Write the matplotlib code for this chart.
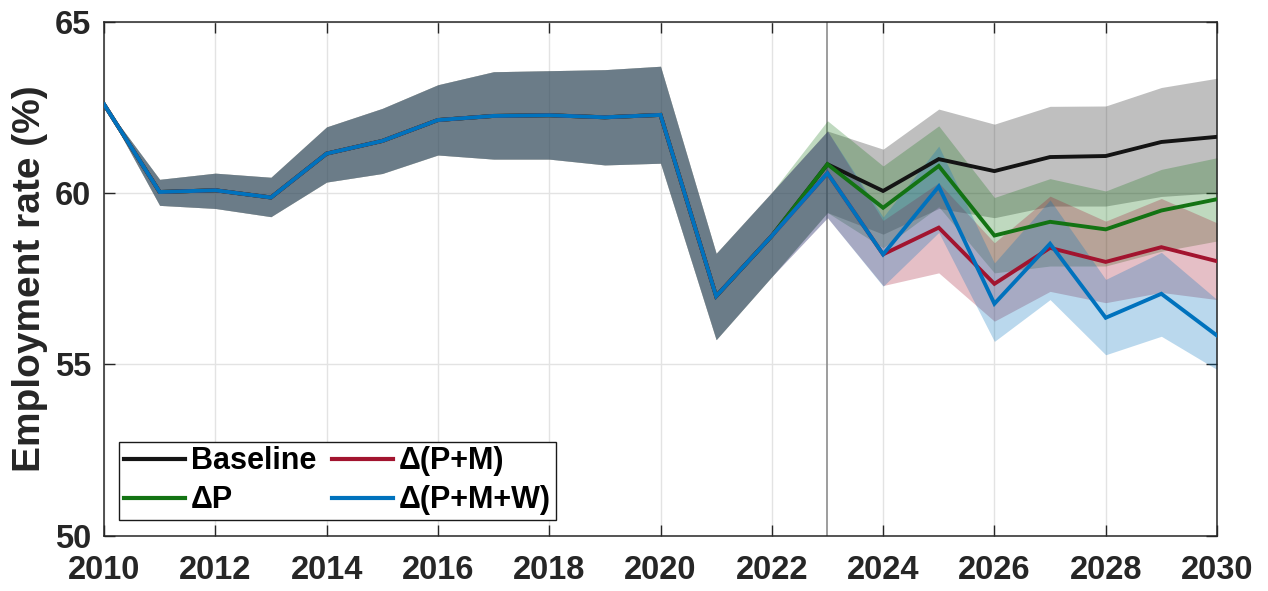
import matplotlib
matplotlib.use("Agg")
import matplotlib.pyplot as plt
import numpy as np

# ---- data -------------------------------------------------------------
years = list(range(2010, 2031))

# observed period (shared by all scenarios), 2010-2022
hist_mean = [62.59, 60.03, 60.08, 59.87, 61.15, 61.52, 62.13, 62.25, 62.27, 62.21, 62.28, 56.99, 58.75]
hist_upper = [62.59, 60.40, 60.58, 60.46, 61.93, 62.47, 63.16, 63.54, 63.57, 63.60, 63.70, 58.24, 60.02]
hist_lower = [62.59, 59.64, 59.55, 59.31, 60.32, 60.57, 61.11, 60.99, 60.99, 60.82, 60.87, 55.72, 57.56]

# projections 2023-2030
base_mean = [60.84, 60.06, 60.99, 60.64, 61.05, 61.08, 61.49, 61.64]
base_upper = [61.81, 61.28, 62.45, 62.01, 62.53, 62.54, 63.08, 63.35]
base_lower = [59.43, 58.80, 59.55, 59.28, 59.62, 59.62, 59.90, 60.01]

p_mean = [60.84, 59.57, 60.79, 58.76, 59.16, 58.94, 59.49, 59.82]
p_upper = [62.11, 60.79, 61.96, 59.87, 60.42, 60.06, 60.69, 61.03]
p_lower = [59.43, 58.40, 59.60, 57.67, 57.87, 57.87, 58.30, 58.60]

pm_mean = [60.58, 58.21, 58.99, 57.35, 58.40, 57.99, 58.42, 58.01]
pm_upper = [61.81, 59.20, 60.30, 58.55, 59.91, 59.18, 59.84, 59.13]
pm_lower = [59.28, 57.30, 57.67, 56.26, 57.13, 56.80, 57.10, 56.89]

pmw_mean = [60.58, 58.21, 60.19, 56.77, 58.52, 56.36, 57.06, 55.84]
pmw_upper = [61.81, 59.30, 61.37, 57.96, 59.80, 57.48, 58.27, 56.89]
pmw_lower = [59.28, 57.28, 58.85, 55.67, 56.89, 55.28, 55.82, 54.85]

labels = ["Baseline", "\u0394P", "\u0394(P+M)", "\u0394(P+M+W)"]
colors = ["#141414", "#137313", "#A2142F", "#0072BD"]
split_year = 2023

xticks = list(range(2010, 2031, 2))
yticks = [50, 55, 60, 65]

# ---- style ------------------------------------------------------------
plt.rcParams["font.family"] = ["Liberation Sans", "DejaVu Sans"]
plt.rcParams["font.weight"] = "bold"

fig = plt.figure(figsize=(12.68, 5.91), dpi=100)
W, H = 1268, 591
ax = fig.add_axes([104 / W, 1 - 535.7 / H, (1217 - 104) / W, (535.7 - 21.7) / H])

x = np.array(years)
series = [
    (base_mean, base_upper, base_lower),
    (p_mean, p_upper, p_lower),
    (pm_mean, pm_upper, pm_lower),
    (pmw_mean, pmw_upper, pmw_lower),
]

handles = []
for (m, u, l), c, lab in zip(series, colors, labels):
    mean = np.array(hist_mean + m)
    up = np.array(hist_upper + u)
    lo = np.array(hist_lower + l)
    ax.fill_between(x, lo, up, color=c, alpha=0.27, linewidth=0, zorder=2)
    h, = ax.plot(x, mean, color=c, lw=2.8, label=lab, zorder=3,
                 solid_joinstyle="miter")
    handles.append(h)

ax.axvline(split_year, color="#8c8c8c", lw=1.2, zorder=1.5)

ax.set_xlim(2010, 2030)
ax.set_ylim(50, 65)
ax.set_xticks(xticks)
ax.set_yticks(yticks)
ax.grid(True, color="#e3e3e3", lw=1.0, zorder=0)
ax.set_axisbelow(True)

for s in ax.spines.values():
    s.set_color("#262626")
    s.set_linewidth(1.1)

ax.tick_params(axis="both", direction="in", top=True, right=True, length=8,
               width=1.0, colors="#262626", labelsize=23.5)
ax.tick_params(axis="x", pad=14)
ax.tick_params(axis="y", pad=9)

ax.set_ylabel("Employment rate (%)", fontsize=28, fontweight="bold",
              color="#262626", labelpad=5)

leg = ax.legend(handles=handles, ncol=2, loc="lower left",
                bbox_to_anchor=(0.0137, 0.0306), borderaxespad=0,
                fontsize=22, frameon=True, fancybox=False, framealpha=1,
                edgecolor="#1a1a1a", handlelength=2.0, handletextpad=0.2,
                columnspacing=0.5, labelspacing=0.3, borderpad=0.15)
leg.get_frame().set_linewidth(1.0)
for ln in leg.get_lines():
    ln.set_linewidth(3.0)

fig.savefig("out.png", dpi=100)
